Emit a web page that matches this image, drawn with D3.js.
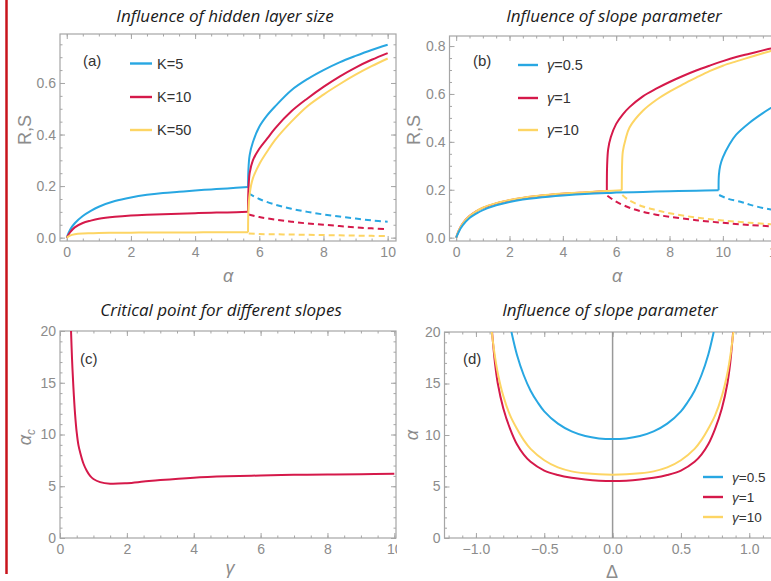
<!DOCTYPE html>
<html><head><meta charset="utf-8">
<script src="https://cdn.jsdelivr.net/npm/d3@7"></script>
<style>body{margin:0;background:#fff}svg{display:block}</style>
</head><body><svg id="c" width="771" height="581"></svg>
<script>
// ---------------- DATA ----------------
// Panel (a): Influence of hidden layer size
const aLegend = ["K=5", "K=10", "K=50"];
const aLowX   = [0, 0.1, 0.25, 0.5, 0.75, 1, 1.5, 2, 2.5, 3, 3.5, 4, 4.5, 5, 5.65];
const aLowK5  = [0, 0.03, 0.056, 0.084, 0.104, 0.12, 0.142, 0.156, 0.166, 0.173, 0.178, 0.183, 0.187, 0.191, 0.196];
const aLowK10 = [0, 0.02, 0.04, 0.057, 0.066, 0.073, 0.081, 0.086, 0.089, 0.091, 0.093, 0.095, 0.097, 0.098, 0.1];
const aLowK50 = [0, 0.008, 0.013, 0.016, 0.017, 0.018, 0.019, 0.019, 0.02, 0.02, 0.02, 0.02, 0.021, 0.021, 0.021];
const aUpX    = [5.65, 5.66, 5.7, 5.8, 6, 6.25, 6.5, 7, 7.5, 8, 8.5, 9, 9.5, 10];
const aUpK5   = [0.196, 0.26, 0.32, 0.37, 0.43, 0.475, 0.51, 0.572, 0.615, 0.65, 0.68, 0.705, 0.728, 0.748];
const aUpK10  = [0.1, 0.18, 0.25, 0.3, 0.345, 0.385, 0.425, 0.49, 0.54, 0.585, 0.625, 0.66, 0.69, 0.716];
const aUpK50  = [0.021, 0.1, 0.17, 0.23, 0.285, 0.335, 0.38, 0.45, 0.51, 0.555, 0.595, 0.632, 0.665, 0.695];
const aDashX   = [5.67, 6, 6.5, 7, 7.5, 8, 8.5, 9, 9.5, 10];
const aDashK5  = [0.172, 0.15, 0.128, 0.112, 0.1, 0.09, 0.082, 0.074, 0.067, 0.062];
const aDashK10 = [0.09, 0.08, 0.07, 0.062, 0.055, 0.05, 0.045, 0.04, 0.036, 0.033];
const aDashK50 = [0.016, 0.014, 0.013, 0.012, 0.011, 0.01, 0.009, 0.008, 0.007, 0.006];

// Panel (b): Influence of slope parameter (order alpha)
const bLegend = ["γ=0.5", "γ=1", "γ=10"];
const bLowG05X = [0, 0.1, 0.25, 0.5, 0.75, 1, 1.5, 2, 2.5, 3, 4, 5, 5.65, 6, 7, 8, 9, 9.84];
const bLowG05  = [0, 0.025, 0.052, 0.082, 0.1, 0.115, 0.135, 0.149, 0.159, 0.166, 0.176, 0.183, 0.186, 0.188, 0.191, 0.194, 0.196, 0.198];
const bLowG1X  = [0, 0.1, 0.25, 0.5, 0.75, 1, 1.5, 2, 2.5, 3, 4, 5, 5.65];
const bLowG1   = [0, 0.03, 0.06, 0.09, 0.11, 0.124, 0.143, 0.156, 0.166, 0.173, 0.183, 0.19, 0.195];
const bLowG10X = [0, 0.1, 0.25, 0.5, 0.75, 1, 1.5, 2, 2.5, 3, 4, 5, 5.65, 6.21];
const bLowG10  = [0, 0.03, 0.06, 0.09, 0.11, 0.125, 0.144, 0.157, 0.167, 0.174, 0.184, 0.191, 0.195, 0.198];
const bUpG05X  = [9.84, 9.85, 9.9, 10, 10.25, 10.5, 11, 11.5, 12];
const bUpG05   = [0.198, 0.26, 0.3, 0.335, 0.39, 0.43, 0.48, 0.52, 0.555];
const bUpG1X   = [5.65, 5.66, 5.7, 5.8, 6, 6.25, 6.5, 7, 7.5, 8, 8.5, 9, 9.5, 10, 10.5, 11, 11.5, 12];
const bUpG1    = [0.195, 0.3, 0.37, 0.42, 0.475, 0.515, 0.545, 0.59, 0.622, 0.65, 0.675, 0.698, 0.718, 0.737, 0.754, 0.768, 0.782, 0.795];
const bUpG10X  = [6.21, 6.22, 6.25, 6.35, 6.5, 7, 7.5, 8, 8.5, 9, 9.5, 10, 10.5, 11, 11.5, 12];
const bUpG10   = [0.198, 0.3, 0.36, 0.41, 0.46, 0.53, 0.575, 0.61, 0.64, 0.668, 0.695, 0.718, 0.736, 0.753, 0.77, 0.786];
const bDashG05X = [9.86, 10.2, 10.66, 11, 11.5, 12];
const bDashG05  = [0.178, 0.162, 0.15, 0.138, 0.124, 0.113];
const bDashG1X  = [5.67, 6, 6.5, 7, 7.5, 8, 9, 10, 11, 12];
const bDashG1   = [0.175, 0.15, 0.125, 0.108, 0.096, 0.087, 0.073, 0.062, 0.053, 0.046];
const bDashG10X = [6.23, 6.5, 7, 7.5, 8, 9, 10, 11, 12];
const bDashG10  = [0.178, 0.155, 0.13, 0.115, 0.102, 0.084, 0.072, 0.062, 0.055];

// Panel (c): Critical point for different slopes
const cGamma = [0.33, 0.36, 0.4, 0.45, 0.5, 0.55, 0.6, 0.7, 0.8, 0.9, 1.0, 1.2, 1.5, 2, 2.5, 3, 4, 5, 6, 7, 8, 9, 10];
const cAlpha = [20, 17.3, 14.6, 12, 10.2, 9, 8.3, 7.2, 6.5, 6.0, 5.7, 5.4, 5.25, 5.3, 5.45, 5.6, 5.83, 5.96, 6.04, 6.1, 6.14, 6.17, 6.2];

// Panel (d): Influence of slope parameter (Delta)
const dLegend = ["γ=0.5", "γ=1", "γ=10"];
const dDeltaG05 = [-0.74, -0.7, -0.65, -0.6, -0.55, -0.5, -0.4, -0.3, -0.2, -0.1, 0, 0.1, 0.2, 0.3, 0.4, 0.5, 0.55, 0.6, 0.65, 0.7, 0.74];
const dAlphaG05 = [20, 17.8, 15.8, 14.3, 13.2, 12.3, 11.1, 10.35, 9.9, 9.67, 9.6, 9.67, 9.9, 10.35, 11.1, 12.3, 13.2, 14.3, 15.8, 17.8, 20];
const dDeltaG1  = [-0.882, -0.86, -0.84, -0.8, -0.75, -0.7, -0.65, -0.6, -0.5, -0.4, -0.3, -0.2, -0.1, 0, 0.1, 0.2, 0.3, 0.4, 0.5, 0.6, 0.65, 0.7, 0.75, 0.8, 0.84, 0.86, 0.882];
const dAlphaG1  = [20, 16.9, 15.0, 12.6, 10.6, 9.1, 8.1, 7.4, 6.55, 6.12, 5.85, 5.68, 5.57, 5.53, 5.57, 5.68, 5.85, 6.12, 6.55, 7.4, 8.1, 9.1, 10.6, 12.6, 15.0, 16.9, 20];
const dDeltaG10 = [-0.884, -0.865, -0.84, -0.8, -0.75, -0.7, -0.65, -0.6, -0.5, -0.4, -0.3, -0.2, -0.1, 0, 0.1, 0.2, 0.3, 0.4, 0.5, 0.6, 0.65, 0.7, 0.75, 0.8, 0.84, 0.865, 0.884];
const dAlphaG10 = [20, 18.0, 16.0, 13.8, 11.9, 10.6, 9.5, 8.65, 7.55, 6.85, 6.47, 6.28, 6.18, 6.15, 6.18, 6.28, 6.47, 6.85, 7.55, 8.65, 9.5, 10.6, 11.9, 13.8, 16.0, 18.0, 20];

// Tick values
const aXTicks = [0, 2, 4, 6, 8, 10];
const aYTicks = [0, 0.2, 0.4, 0.6];
const bXTicks = [0, 2, 4, 6, 8, 10, 12];
const bYTicks = [0, 0.2, 0.4, 0.6, 0.8];
const cXTicks = [0, 2, 4, 6, 8, 10];
const cYTicks = [0, 5, 10, 15, 20];
const dXTicks = [-1.0, -0.5, 0, 0.5, 1.0];
const dYTicks = [0, 5, 10, 15, 20];

// ---------------- DRAW ----------------
const W = 771, H = 581;
const svg = d3.select("#c");
svg.append("rect").attr("width", W).attr("height", H).attr("fill", "#fff");
const defs = svg.append("defs");
defs.append("clipPath").attr("id", "leftClip").append("rect")
  .attr("x", 0).attr("y", 0).attr("width", 397).attr("height", H);

const COL = { blue: "#28a7e2", red: "#d5194a", yellow: "#fdd564" };
const FRAME = "#a6a6a6", TICKTXT = "#8c8c8c", LABTXT = "#8c8c8c";
const SANS = "'Liberation Sans', Arial, sans-serif";

const zip = (xs, ys) => xs.map((v, i) => [v, ys[i]]);

function panel(o) {
  const g = svg.append("g");
  if (o.clipLeft) g.attr("clip-path", "url(#leftClip)");
  const x = d3.scaleLinear().domain(o.xd).range([o.L, o.R]);
  const y = d3.scaleLinear().domain(o.yd).range([o.B, o.T]);
  const cid = "pc" + o.id;
  defs.append("clipPath").attr("id", cid).append("rect")
    .attr("x", o.L).attr("y", o.T).attr("width", o.R - o.L).attr("height", o.B - o.T);

  const styleAxis = sel => {
    sel.select(".domain").remove();
    sel.selectAll("line").attr("stroke", FRAME).attr("stroke-width", 1);
    sel.selectAll("text").attr("fill", TICKTXT).style("font-family", SANS).style("font-size", "14px");
  };
  const xMinor = d3.range(o.xd[0], o.xd[1] + 1e-9, o.xMinor).map(v => Math.round(v / o.xMinor) * o.xMinor)
    .filter(v => v >= o.xd[0] && v <= o.xd[1]);
  const yMinor = d3.range(0, o.yd[1] + 1e-9, o.yMinor).map(v => Math.round(v / o.yMinor) * o.yMinor)
    .filter(v => v >= o.yd[0] && v <= o.yd[1]);

  g.append("g").attr("transform", `translate(0,${o.B})`)
    .call(d3.axisBottom(x).tickValues(o.xTicks).tickSize(-5).tickPadding(6).tickFormat(o.xFmt)).call(styleAxis);
  g.append("g").attr("transform", `translate(0,${o.B})`)
    .call(d3.axisBottom(x).tickValues(xMinor).tickSize(-2.5).tickFormat("")).call(styleAxis);
  g.append("g").attr("transform", `translate(0,${o.T})`)
    .call(d3.axisTop(x).tickValues(o.xTicks).tickSize(-5).tickFormat("")).call(styleAxis);
  g.append("g").attr("transform", `translate(0,${o.T})`)
    .call(d3.axisTop(x).tickValues(xMinor).tickSize(-2.5).tickFormat("")).call(styleAxis);
  g.append("g").attr("transform", `translate(${o.L},0)`)
    .call(d3.axisLeft(y).tickValues(o.yTicks).tickSize(-5).tickPadding(4).tickFormat(o.yFmt)).call(styleAxis);
  g.append("g").attr("transform", `translate(${o.L},0)`)
    .call(d3.axisLeft(y).tickValues(yMinor).tickSize(-2.5).tickFormat("")).call(styleAxis);
  g.append("g").attr("transform", `translate(${o.R},0)`)
    .call(d3.axisRight(y).tickValues(o.yTicks).tickSize(-5).tickFormat("")).call(styleAxis);
  g.append("g").attr("transform", `translate(${o.R},0)`)
    .call(d3.axisRight(y).tickValues(yMinor).tickSize(-2.5).tickFormat("")).call(styleAxis);

  g.append("rect").attr("x", o.L).attr("y", o.T).attr("width", o.R - o.L).attr("height", o.B - o.T)
    .attr("fill", "none").attr("stroke", FRAME).attr("stroke-width", 1.2);

  g.append("text").attr("x", o.titleX).attr("y", o.titleY).attr("text-anchor", "middle")
    .style("font-family", "'Open Sans', sans-serif").style("font-style", "italic").style("font-size", "17px")
    .attr("fill", "#1a1a1a").text(o.title);

  const plot = g.append("g").attr("clip-path", `url(#${cid})`);
  const line = d3.line().x(d => x(d[0])).y(d => y(d[1])).curve(d3.curveCatmullRom.alpha(0.5));
  return { g, x, y, plot, line };
}

function drawSeries(p, pts, color, dashed) {
  p.plot.append("path").attr("d", p.line(pts)).attr("fill", "none")
    .attr("stroke", color).attr("stroke-width", 2)
    .attr("stroke-dasharray", dashed ? "6,4" : null)
    .attr("stroke-linejoin", "round");
}

function legend(p, items, x0, x1, ys, tx, fs) {
  items.forEach((it, i) => {
    p.g.append("line").attr("x1", x0).attr("x2", x1).attr("y1", ys[i]).attr("y2", ys[i])
      .attr("stroke", it.c).attr("stroke-width", 2.4);
    const t = p.g.append("text").attr("x", tx).attr("y", ys[i] + fs * 0.35)
      .style("font-family", SANS).style("font-size", fs + "px").attr("fill", "#333");
    if (it.t.startsWith("γ")) {
      t.append("tspan").style("font-style", "italic").text("γ");
      t.append("tspan").text(it.t.slice(1));
    } else t.text(it.t);
  });
}

function tag(p, s, x, y) {
  p.g.append("text").attr("x", x).attr("y", y).style("font-family", SANS).style("font-size", "15px")
    .attr("fill", "#333").text(s);
}

function axisLabel(p, x, y, rot, italic) {
  const t = p.g.append("text").attr("text-anchor", "middle")
    .attr("transform", `translate(${x},${y})` + (rot ? " rotate(-90)" : ""))
    .style("font-family", SANS).style("font-size", "18px").attr("fill", LABTXT);
  if (italic) t.style("font-style", "italic");
  return t;
}

const f1 = d3.format(".1f");
const f0 = d3.format("d");

// ---- Panel (a)
const pa = panel({ id: "a", clipLeft: true, L: 60, R: 396, T: 34, B: 241,
  xd: [-0.21, 10.26], yd: [-0.013, 0.79], xTicks: aXTicks, yTicks: aYTicks,
  xMinor: 0.5, yMinor: 0.05, xFmt: f0, yFmt: f1,
  title: "Influence of hidden layer size", titleX: 225, titleY: 22 });
drawSeries(pa, zip(aDashX, aDashK50), COL.yellow, true);
drawSeries(pa, zip(aDashX, aDashK10), COL.red, true);
drawSeries(pa, zip(aDashX, aDashK5), COL.blue, true);
drawSeries(pa, zip(aLowX, aLowK5), COL.blue);
drawSeries(pa, zip(aUpX, aUpK5), COL.blue);
drawSeries(pa, zip(aLowX, aLowK10), COL.red);
drawSeries(pa, zip(aUpX, aUpK10), COL.red);
drawSeries(pa, zip(aLowX, aLowK50), COL.yellow);
drawSeries(pa, zip(aUpX, aUpK50), COL.yellow);
legend(pa, [{ t: aLegend[0], c: COL.blue }, { t: aLegend[1], c: COL.red }, { t: aLegend[2], c: COL.yellow }],
  130, 152, [63.5, 97, 130], 157, 14.5);
tag(pa, "(a)", 83, 66);
axisLabel(pa, 228, 282, false, true).text("α");
axisLabel(pa, 31, 130, true, false).text("R,S");

// ---- Panel (b)
const pb = panel({ id: "b", L: 449.5, R: 785, T: 36, B: 241,
  xd: [-0.25, 12.33], yd: [-0.014, 0.842], xTicks: bXTicks, yTicks: bYTicks,
  xMinor: 0.5, yMinor: 0.05, xFmt: f0, yFmt: f1,
  title: "Influence of slope parameter", titleX: 614, titleY: 22 });
drawSeries(pb, zip(bDashG10X, bDashG10), COL.yellow, true);
drawSeries(pb, zip(bDashG1X, bDashG1), COL.red, true);
drawSeries(pb, zip(bDashG05X, bDashG05), COL.blue, true);
drawSeries(pb, zip(bLowG1X, bLowG1), COL.red);
drawSeries(pb, zip(bUpG1X, bUpG1), COL.red);
drawSeries(pb, zip(bLowG10X, bLowG10), COL.yellow);
drawSeries(pb, zip(bUpG10X, bUpG10), COL.yellow);
drawSeries(pb, zip(bLowG05X, bLowG05), COL.blue);
drawSeries(pb, zip(bUpG05X, bUpG05), COL.blue);
legend(pb, [{ t: bLegend[0], c: COL.blue }, { t: bLegend[1], c: COL.red }, { t: bLegend[2], c: COL.yellow }],
  518, 538, [65, 98, 130], 547, 14.5);
tag(pb, "(b)", 473, 66);
axisLabel(pb, 617, 282, false, true).text("α");
axisLabel(pb, 420, 130, true, false).text("R,S");

// ---- Panel (c)
const pc = panel({ id: "c", clipLeft: true, L: 60, R: 396, T: 331, B: 538,
  xd: [0, 10.05], yd: [0, 20], xTicks: cXTicks, yTicks: cYTicks,
  xMinor: 0.5, yMinor: 1, xFmt: f0, yFmt: f0,
  title: "Critical point for different slopes", titleX: 221, titleY: 316 });
drawSeries(pc, zip(cGamma, cAlpha), COL.red);
tag(pc, "(c)", 80, 364);
{
  const t = axisLabel(pc, 31, 437, true, true);
  t.append("tspan").text("α");
  t.append("tspan").attr("baseline-shift", "-30%").style("font-size", "12px").text("c");
}
axisLabel(pc, 230, 574, false, true).text("γ");

// ---- Panel (d)
const pd = panel({ id: "d", L: 444.5, R: 780, T: 332, B: 538,
  xd: [-1.23, 1.225], yd: [0, 20], xTicks: dXTicks, yTicks: dYTicks,
  xMinor: 0.1, yMinor: 1, xFmt: f1, yFmt: f0,
  title: "Influence of slope parameter", titleX: 610, titleY: 316 });
pd.plot.append("line").attr("x1", pd.x(0)).attr("x2", pd.x(0)).attr("y1", pd.y(0)).attr("y2", pd.y(20))
  .attr("stroke", "#999").attr("stroke-width", 1.5);
drawSeries(pd, zip(dDeltaG05, dAlphaG05), COL.blue);
drawSeries(pd, zip(dDeltaG1, dAlphaG1), COL.red);
drawSeries(pd, zip(dDeltaG10, dAlphaG10), COL.yellow);
legend(pd, [{ t: dLegend[0], c: COL.blue }, { t: dLegend[1], c: COL.red }, { t: dLegend[2], c: COL.yellow }],
  703, 723, [477, 497, 517], 732, 13.5);
tag(pd, "(d)", 463, 364);
axisLabel(pd, 418, 435, true, true).text("α");
axisLabel(pd, 612, 578, false, false).text("Δ");

// red vertical border line at the far left
svg.append("line").attr("x1", 6.5).attr("x2", 6.5).attr("y1", 0).attr("y2", 574)
  .attr("stroke", "#c8141c").attr("stroke-width", 2.5);
</script></body></html>
